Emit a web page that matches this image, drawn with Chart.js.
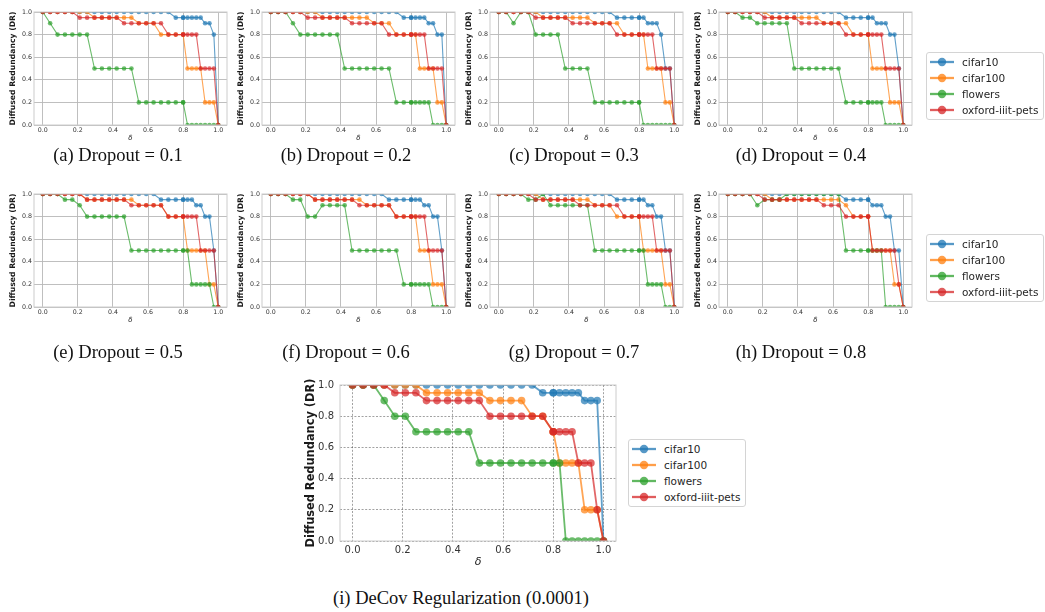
<!DOCTYPE html>
<html>
<head>
<meta charset="utf-8">
<script src="https://cdn.jsdelivr.net/npm/chart.js@4.4.1/dist/chart.umd.min.js"></script>
<style>
  body { margin: 0; background: #fff; width: 1045px; height: 612px; position: relative; overflow: hidden; }
  canvas.panel { position: absolute; }
  .cap { position: absolute; font-family: "Liberation Serif", serif; font-size: 18.5px; color: #111; white-space: nowrap; transform: translate(-50%, -50%); line-height: 1; }
  .legend { position: absolute; width: 116px; height: 66px; border: 1px solid #d4d4d4; border-radius: 3px; background: #fff; font-family: "DejaVu Sans", sans-serif; font-size: 10.5px; color: #262626; }
  .legend .row { position: absolute; left: 2px; height: 16px; line-height: 16px; white-space: nowrap; }
  .legend svg { position: absolute; left: 0; top: 3px; }
  .legend span { position: absolute; left: 33px; top: 0; }
</style>
</head>
<body>
<script>
// x positions of the thresholds (delta) and ticks
const delta = [0, 0.0421, 0.0842, 0.1263, 0.1684, 0.2105, 0.2526, 0.2947, 0.3368, 0.3789,
  0.4211, 0.4632, 0.5053, 0.5474, 0.5895, 0.6316, 0.6737, 0.7158, 0.7579, 0.8,
  0.8, 0.825, 0.85, 0.875, 0.9, 0.925, 0.95, 0.975, 1.0];
const xTicks = [0, 0.2, 0.4, 0.6, 0.8, 1.0];
const yTicks = [0, 0.2, 0.4, 0.6, 0.8, 1.0];
const seriesNames = ['cifar10', 'cifar100', 'flowers', 'oxford-iiit-pets'];
const captions = ['(a) Dropout = 0.1', '(b) Dropout = 0.2', '(c) Dropout = 0.3', '(d) Dropout = 0.4',
  '(e) Dropout = 0.5', '(f) Dropout = 0.6', '(g) Dropout = 0.7', '(h) Dropout = 0.8',
  '(i) DeCov Regularization (0.0001)'];

// (a) dropout 0.1
const a_cifar10 = [1,1,1,1,1,1,1,1,1,1,1,1,1,1,1,1,1,1,.95,.95, .95,.95,.95,.95,.95,.9,.9,.8,0];
const a_cifar100 = [1,1,1,1,1,1,1,.95,.95,.95,.95,.95,.95,.9,.9,.9,.8,.8,.8,.8, .8,.5,.5,.5,.5,.2,.2,.2,0];
const a_flowers = [1,.9,.8,.8,.8,.8,.8,.5,.5,.5,.5,.5,.5,.2,.2,.2,.2,.2,.2,.2, .2,0,0,0,0,0,0,0,0];
const a_pets = [1,1,1,1,1,.95,.95,.95,.95,.95,.95,.9,.9,.9,.9,.9,.9,.8,.8,.8, .8,.8,.8,.8,.5,.5,.5,.5,0];
// (b) dropout 0.2
const b_cifar10 = [1,1,1,1,1,1,1,1,1,1,1,1,1,1,1,1,1,1,.95,.95, .95,.95,.95,.95,.9,.9,.8,.8,0];
const b_cifar100 = [1,1,1,1,1,1,1,.95,.95,.95,.95,.95,.95,.95,.9,.9,.9,.8,.8,.8, .8,.8,.5,.5,.5,.5,.2,.2,0];
const b_flowers = [1,1,1,.9,.8,.8,.8,.8,.8,.8,.5,.5,.5,.5,.5,.5,.5,.2,.2,.2, .2,.2,.2,.2,.2,0,0,0,0];
const b_pets = [1,1,1,1,1,.95,.95,.95,.95,.95,.95,.9,.9,.9,.9,.9,.8,.8,.8,.8, .8,.8,.8,.8,.5,.5,.5,.5,0];
// (c) dropout 0.3
const c_cifar10 = [1,1,1,1,1,1,1,1,1,1,1,1,1,1,1,1,.95,.95,.95,.95, .95,.95,.9,.9,.9,.8,.5,.5,0];
const c_cifar100 = [1,1,1,1,1,1,.95,.95,.95,.95,.95,.95,.95,.9,.9,.9,.9,.8,.8,.8, .8,.8,.5,.5,.5,.5,.2,.2,0];
const c_flowers = [1,1,.9,1,1,.8,.8,.8,.8,.5,.5,.5,.5,.2,.2,.2,.2,.2,.2,.2, .2,0,0,0,0,0,0,0,0];
const c_pets = [1,1,1,1,1,.95,.95,.95,.95,.95,.9,.9,.9,.9,.9,.9,.8,.8,.8,.8, .8,.8,.8,.8,.5,.5,.5,.5,0];
// (d) dropout 0.4
const d_cifar10 = [1,1,1,1,1,1,1,1,1,1,1,1,1,1,1,1,.95,.95,.95,.95, .95,.95,.9,.9,.9,.8,.8,.5,0];
const d_cifar100 = [1,1,1,1,1,1,.95,.95,.95,.95,.95,.95,.95,.9,.9,.9,.9,.8,.8,.8, .8,.5,.5,.5,.5,.2,.2,.2,0];
const d_flowers = [1,1,.95,.95,.9,.9,.9,.9,.9,.5,.5,.5,.5,.5,.5,.5,.2,.2,.2,.2, .2,.2,.2,.2,0,0,0,0,0];
const d_pets = [1,1,1,1,1,.95,.95,.95,.95,.95,.9,.9,.9,.9,.9,.9,.8,.8,.8,.8, .8,.8,.8,.8,.5,.5,.5,.5,0];
// (e) dropout 0.5
const e_cifar10 = [1,1,1,1,1,1,1,1,1,1,1,1,1,1,1,1,.95,.95,.95,.95, .95,.95,.95,.9,.9,.8,.8,.5,0];
const e_cifar100 = [1,1,1,1,1,1,.95,.95,.95,.95,.95,.95,.95,.9,.9,.9,.9,.8,.8,.8, .8,.5,.5,.5,.5,.5,.2,.2,0];
const e_flowers = [1,1,1,.95,.95,.9,.8,.8,.8,.8,.8,.8,.5,.5,.5,.5,.5,.5,.5,.5, .5,.5,.2,.2,.2,.2,.2,0,0];
const e_pets = [1,1,1,1,1,1,.95,.95,.95,.95,.95,.95,.9,.9,.9,.9,.9,.8,.8,.8, .8,.8,.8,.8,.5,.5,.5,.5,0];
// (f) dropout 0.6
const f_cifar10 = [1,1,1,1,1,1,1,1,1,1,1,1,1,1,1,1,.95,.95,.95,.95, .95,.95,.95,.9,.9,.8,.8,.5,0];
const f_cifar100 = [1,1,1,1,1,1,.95,.95,.95,.95,.95,.95,.95,.9,.9,.9,.9,.8,.8,.8, .8,.8,.5,.5,.5,.2,.2,.2,0];
const f_flowers = [1,1,1,.95,.95,.8,.8,.9,.9,.9,.9,.5,.5,.5,.5,.5,.5,.5,.2,.2, .2,.2,.2,.2,.2,0,0,0,0];
const f_pets = [1,1,1,1,1,1,.95,.95,.95,.95,.95,.95,.9,.9,.9,.9,.9,.8,.8,.8, .8,.8,.8,.8,.5,.5,.5,.5,0];
// (g) dropout 0.7
const g_cifar10 = [1,1,1,1,1,1,1,1,1,1,1,1,1,1,1,1,.95,.95,.95,.95, .95,.95,.9,.9,.8,.8,.5,.5,0];
const g_cifar100 = [1,1,1,1,1,1,.95,.95,.95,.95,.95,.95,.95,.9,.9,.9,.8,.8,.8,.8, .8,.5,.5,.5,.5,.5,.2,.2,0];
const g_flowers = [1,1,1,1,.95,.95,1,.9,.9,.9,.9,.9,.9,.5,.5,.5,.5,.5,.5,.5, .5,.5,.2,.2,.2,.2,0,0,0];
const g_pets = [1,1,1,1,1,.95,.95,.95,.95,.95,.95,.9,.9,.9,.9,.9,.9,.8,.8,.8, .8,.8,.8,.8,.5,.5,.5,.5,0];
// (h) dropout 0.8
const h_cifar10 = [1,1,1,1,1,1,1,1,1,1,1,1,1,1,1,1,.95,.95,.95,.95, .95,.9,.9,.9,.8,.8,.5,.5,0];
const h_cifar100 = [1,1,1,1,1,1,.95,.95,.95,.95,.95,.95,.95,.95,.95,.95,.9,.8,.8,.8, .8,.5,.5,.5,.5,.5,.2,.2,0];
const h_flowers = [1,1,1,1,.9,.95,.95,.95,1,1,1,1,1,1,1,1,.5,.5,.5,.5, .5,.5,.5,.5,0,0,0,0,0];
const h_pets = [1,1,1,1,1,.95,.95,.95,.95,.95,.95,.95,.95,.9,.9,.9,.8,.8,.8,.8, .8,.5,.5,.5,.5,.5,.5,.2,0];
// (i) DeCov regularization
const i_cifar10 = [1,1,1,1,1,1,1,1,1,1,1,1,1,1,1,1,1,1,.95,.95, .95,.95,.95,.95,.95,.9,.9,.9,0];
const i_cifar100 = [1,1,1,1,1,1,1,.95,.95,.95,.95,.95,.95,.9,.9,.9,.9,.8,.8,.7, .7,.5,.5,.5,.5,.2,.2,.2,0];
const i_flowers = [1,1,1,.9,.8,.8,.7,.7,.7,.7,.7,.7,.5,.5,.5,.5,.5,.5,.5,.5, .5,.5,0,0,0,0,0,0,0];
const i_pets = [1,1,1,1,.95,.95,.95,.9,.9,.9,.9,.9,.9,.8,.8,.8,.8,.8,.8,.7, .7,.7,.7,.7,.5,.5,.5,.2,0];

const colors = ['31,119,180', '255,127,14', '44,160,44', '214,39,40'];

// plot-area boxes (pixels of the page)
const panels = [
  { data: [a_cifar10, a_cifar100, a_flowers, a_pets], x: 34, y: 12 },
  { data: [b_cifar10, b_cifar100, b_flowers, b_pets], x: 262, y: 12 },
  { data: [c_cifar10, c_cifar100, c_flowers, c_pets], x: 490, y: 12 },
  { data: [d_cifar10, d_cifar100, d_flowers, d_pets], x: 719, y: 12 },
  { data: [e_cifar10, e_cifar100, e_flowers, e_pets], x: 34, y: 194 },
  { data: [f_cifar10, f_cifar100, f_flowers, f_pets], x: 262, y: 194 },
  { data: [g_cifar10, g_cifar100, g_flowers, g_pets], x: 490, y: 194 },
  { data: [h_cifar10, h_cifar100, h_flowers, h_pets], x: 719, y: 194 },
  { data: [i_cifar10, i_cifar100, i_flowers, i_pets], x: 340, y: 381, big: true }
];
const capPos = [[118, 155], [346, 155], [574, 155], [801, 155],
  [118, 352], [346, 352], [574, 352], [801, 352], [461, 598]];
const legendPos = [[926, 52], [926, 234], [628, 439]];

// frame, y title and delta label
const decor = {
  id: 'decor',
  afterDatasetsDraw(chart, args, o) {
    const { ctx, chartArea: a } = chart;
    ctx.save();
    ctx.strokeStyle = '#cccccc';
    ctx.lineWidth = 1;
    ctx.strokeRect(a.left, a.top, a.right - a.left, a.bottom - a.top);
    ctx.fillStyle = '#1a1a1a';
    ctx.textAlign = 'center';
    ctx.textBaseline = 'middle';
    ctx.font = 'bold ' + o.titleSize + 'px "DejaVu Sans"';
    ctx.translate(a.left - o.titleOff, (a.top + a.bottom) / 2);
    ctx.rotate(-Math.PI / 2);
    ctx.fillText('Diffused Redundancy (DR)', 0, 0);
    ctx.restore();
    ctx.save();
    ctx.fillStyle = '#1a1a1a';
    ctx.textAlign = 'center';
    ctx.textBaseline = 'middle';
    ctx.font = 'italic ' + o.deltaSize + 'px "DejaVu Sans"';
    ctx.fillText('δ', chart.scales.x.getPixelForValue(0.5), a.bottom + o.deltaOff);
    ctx.restore();
  }
};

panels.forEach((p, k) => {
  const big = !!p.big;
  const w = big ? 276 : 193, h = big ? 160 : 113;
  const padL = big ? 48 : 34, padT = big ? 8 : 6, padR = big ? 6 : 4, padB = big ? 34 : 22;
  const canvas = document.createElement('canvas');
  canvas.className = 'panel';
  canvas.width = w + padL + padR;
  canvas.height = h + padT + padB;
  canvas.style.left = (p.x - padL) + 'px';
  canvas.style.top = (p.y - padT) + 'px';
  document.body.appendChild(canvas);

  const tickFont = { family: 'DejaVu Sans', size: big ? 10 : 6.3 };
  const gridOpts = big
    ? { color: 'rgba(40,40,40,0.55)', lineWidth: 0.8, drawTicks: false }
    : { color: '#b8b8b8', lineWidth: 0.9, drawTicks: false };

  new Chart(canvas, {
    type: 'line',
    data: {
      datasets: p.data.map((vals, s) => ({
        label: seriesNames[s],
        data: delta.map((x, i) => ({ x: x, y: vals[i] })),
        borderColor: 'rgba(' + colors[s] + ',0.7)',
        backgroundColor: 'rgba(' + colors[s] + ',0.7)',
        pointBackgroundColor: 'rgba(' + colors[s] + ',0.7)',
        pointBorderWidth: 0,
        pointRadius: big ? 3.8 : 2.3,
        borderWidth: big ? 1.8 : 1.1,
        tension: 0,
        clip: 0,
        order: 4 - s
      }))
    },
    options: {
      responsive: false,
      devicePixelRatio: 1,
      animation: false,
      events: [],
      layout: { padding: { top: padT, right: padR, left: 0, bottom: 0 } },
      plugins: {
        legend: { display: false },
        tooltip: { enabled: false },
        decor: big
          ? { titleSize: 11.4, titleOff: 28.5, deltaSize: 11, deltaOff: 21.5 }
          : { titleSize: 7.7, titleOff: 20.6, deltaSize: 7, deltaOff: 12.8 }
      },
      scales: {
        x: {
          type: 'linear',
          min: -0.05,
          max: 1.05,
          afterBuildTicks: s => { s.ticks = xTicks.map(v => ({ value: v })); },
          afterFit: s => { s.height = padB; },
          ticks: { font: tickFont, color: '#333', padding: big ? 3 : 2, maxRotation: 0, autoSkip: false,
            callback: v => v.toFixed(1) },
          grid: gridOpts,
          border: { display: false, dash: big ? [2, 1.6] : [] }
        },
        y: {
          type: 'linear',
          min: 0,
          max: 1,
          afterBuildTicks: s => { s.ticks = yTicks.map(v => ({ value: v })); },
          afterFit: s => { s.width = padL; },
          ticks: { font: tickFont, color: '#333', padding: big ? 6 : 2,
            callback: v => v.toFixed(1) },
          grid: gridOpts,
          border: { display: false, dash: big ? [2, 1.6] : [] }
        }
      }
    },
    plugins: [decor]
  });

  const cap = document.createElement('div');
  cap.className = 'cap';
  cap.textContent = captions[k];
  cap.style.left = capPos[k][0] + 'px';
  cap.style.top = capPos[k][1] + 'px';
  document.body.appendChild(cap);
});

// legends
legendPos.forEach(pos => {
  const box = document.createElement('div');
  box.className = 'legend';
  box.style.left = pos[0] + 'px';
  box.style.top = pos[1] + 'px';
  seriesNames.forEach((name, s) => {
    const c = 'rgba(' + colors[s] + ',0.75)';
    const row = document.createElement('div');
    row.className = 'row';
    row.style.top = (1 + 16 * s) + 'px';
    row.innerHTML = '<svg width="26" height="10"><line x1="1" y1="5" x2="25" y2="5" stroke="' + c +
      '" stroke-width="2.3"/><circle cx="13" cy="5" r="4.2" fill="' + c + '"/></svg><span>' + name + '</span>';
    box.appendChild(row);
  });
  document.body.appendChild(box);
});
</script>
</body>
</html>
